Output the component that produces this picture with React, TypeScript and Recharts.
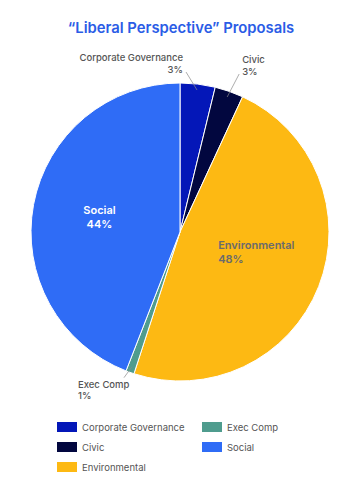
import { PieChart, Pie, Cell, Legend } from 'recharts'

const categories = ['Corporate Governance', 'Civic', 'Environmental', 'Exec Comp', 'Social']
const shares = [3.8, 3.1, 48.1, 0.9, 44.1]
const shareLabels = ['3%', '3%', '48%', '1%', '44%']
const colors = ['#0417b8', '#02073f', '#fdb913', '#4f9c8e', '#2f6cf6']
// legend goes column by column
const legendOrder = [0, 1, 2, 3, 4]

const data = categories.map((name, i) => ({ name, value: shares[i], label: shareLabels[i] }))

const FONT = 'Inter, "Noto Sans", sans-serif'
const RAD = Math.PI / 180

const polar = (cx: number, cy: number, r: number, angle: number) => ({
  x: cx + r * Math.cos(-angle * RAD),
  y: cy + r * Math.sin(-angle * RAD),
})

// outside labels: leader line offset + text anchor
const outside: Record<number, { dx: number; dy: number; anchor: 'start' | 'end'; tx: number }> = {
  0: { dx: -11, dy: -18, anchor: 'end', tx: -3 },
  1: { dx: 12, dy: -23, anchor: 'start', tx: 3 },
  3: { dx: -8, dy: 11, anchor: 'end', tx: -3 },
}

const renderLabel = (props: any) => {
  const { cx, cy, midAngle, outerRadius, index, name, payload } = props
  const pct = payload?.label ?? shareLabels[index]
  const o = outside[index]
  if (o) {
    const p = polar(cx, cy, outerRadius - 6, midAngle)
    const end = { x: p.x + o.dx, y: p.y + o.dy }
    const below = o.dy > 0
    const y1 = below ? end.y + 10 : end.y - 11
    const y2 = below ? end.y + 21 : end.y + 1
    // exec comp text hangs left of its leader line
    const textX = index === 3 ? end.x - 46 : end.x + o.tx
    const anchor = index === 3 ? 'start' : o.anchor
    return (
      <g>
        <line x1={p.x} y1={p.y} x2={end.x} y2={end.y} stroke="#8a8a8a" strokeWidth={0.7} />
        <text x={textX} y={y1} textAnchor={anchor} fill="#555" fontSize={9.5} fontWeight={500} fontFamily={FONT}>
          {name}
        </text>
        <text x={textX} y={y2} textAnchor={anchor} fill="#555" fontSize={9.5} fontWeight={500} fontFamily={FONT}>
          {pct}
        </text>
      </g>
    )
  }
  const inside = index === 4
  const p = polar(cx, cy, outerRadius * (inside ? 0.55 : 0.52), midAngle)
  const x = inside ? p.x : p.x - 34
  const y1 = inside ? p.y - 3 : p.y - 11
  return (
    <g>
      <text x={x} y={y1} textAnchor={inside ? 'middle' : 'start'} fill={inside ? '#fff' : '#6b6b6b'} fontSize={11} fontWeight={600} fontFamily={FONT}>
        {name}
      </text>
      <text x={x} y={y1 + 14} textAnchor={inside ? 'middle' : 'start'} fill={inside ? '#fff' : '#6b6b6b'} fontSize={11} fontWeight={600} fontFamily={FONT}>
        {pct}
      </text>
    </g>
  )
}

const renderLegend = () => (
  <div style={{ display: 'grid', gridTemplateColumns: '145px 120px', gridAutoFlow: 'column', gridTemplateRows: 'repeat(3, 20px)', fontFamily: FONT }}>
    {legendOrder.map((i) => (
      <div key={i} style={{ display: 'flex', alignItems: 'center', height: 20 }}>
        <span style={{ width: 20, height: 10, background: colors[i], display: 'inline-block', marginRight: 5 }} />
        <span style={{ fontSize: 9.5, color: '#555' }}>{categories[i]}</span>
      </div>
    ))}
  </div>
)

export default function App() {
  return (
    <div style={{ position: 'absolute', top: 0, left: 0, width: 358, height: 496, background: '#fff' }}>
      <PieChart width={358} height={496} margin={{ top: 0, right: 0, bottom: 0, left: 0 }}>
        <text x={181} y={33} textAnchor="middle" fill="#2a5ce6" fontSize={14.8} fontWeight={600} fontFamily={FONT}>
          “Liberal Perspective” Proposals
        </text>
        <Pie
          data={data}
          dataKey="value"
          nameKey="name"
          cx={180}
          cy={232}
          outerRadius={149}
          startAngle={90}
          endAngle={-270}
          stroke="#fff"
          strokeWidth={1}
          label={renderLabel}
          labelLine={false}
          isAnimationActive={false}
        >
          {data.map((d, i) => (
            <Cell key={d.name} fill={colors[i]} />
          ))}
        </Pie>
        <Legend content={renderLegend} wrapperStyle={{ top: 417, left: 57, width: 280 }} />
      </PieChart>
    </div>
  )
}
